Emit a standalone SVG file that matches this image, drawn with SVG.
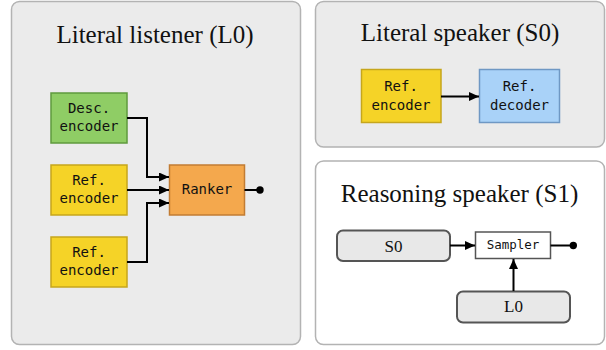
<svg xmlns="http://www.w3.org/2000/svg" width="606" height="350" viewBox="0 0 606 350">
<style>
.panel{fill:#ebebeb;stroke:#b3b3b3;stroke-width:1.5}
.panelw{fill:#ffffff;stroke:#b3b3b3;stroke-width:1.5}
.title{font-family:"Liberation Serif","Times New Roman",serif;font-size:25px;fill:#111;text-anchor:middle}
.mono{font-family:"DejaVu Sans Mono","Liberation Mono",monospace;font-size:14px;fill:#111;text-anchor:middle}
.green{fill:#8fcd65;stroke:#5f9a3e;stroke-width:1.5}
.yellow{fill:#f5d327;stroke:#c6a61c;stroke-width:1.5}
.orange{fill:#f4a84d;stroke:#c27c33;stroke-width:1.5}
.blue{fill:#a9d2f8;stroke:#6f98c4;stroke-width:1.5}
.gnode{fill:#e8e8e8;stroke:#555;stroke-width:2}
.serif{font-family:"Liberation Serif","Times New Roman",serif;font-size:17px;fill:#111;text-anchor:middle}
.conn{fill:none;stroke:#000;stroke-width:2}
</style>
<defs>
<marker id="arr" viewBox="0 0 10 9" refX="10" refY="4.5" markerWidth="5" markerHeight="4.5" markerUnits="strokeWidth" orient="auto">
<path d="M0,0 L10,4.5 L0,9 Z" fill="#000"/>
</marker>
</defs>
<g id="panel-l0">
<rect class="panel" x="11.5" y="1.5" width="289" height="343" rx="8"/>
<text class="title" x="155" y="42.5">Literal listener (L0)</text>
</g>
<g id="panel-s0">
<rect class="panel" x="315.5" y="1.5" width="289" height="145.5" rx="8"/>
<text class="title" x="460" y="40.5">Literal speaker (S0)</text>
</g>
<g id="panel-s1">
<rect class="panelw" x="315.5" y="161" width="289" height="183.5" rx="8"/>
<text class="title" x="459.5" y="201.5">Reasoning speaker (S1)</text>
</g>
<g id="desc-encoder">
<rect class="green" x="51" y="93" width="76" height="50"/>
<text class="mono" x="89" y="112.5">Desc.</text>
<text class="mono" x="89" y="131">encoder</text>
</g>
<g id="ref-encoder-1">
<rect class="yellow" x="51" y="165" width="76" height="50"/>
<text class="mono" x="89" y="184.5">Ref.</text>
<text class="mono" x="89" y="203">encoder</text>
</g>
<g id="ref-encoder-2">
<rect class="yellow" x="51" y="237" width="76" height="50"/>
<text class="mono" x="89" y="256.5">Ref.</text>
<text class="mono" x="89" y="275">encoder</text>
</g>
<g id="ranker">
<rect class="orange" x="169.5" y="165" width="75" height="50"/>
<text class="mono" x="207" y="193.5">Ranker</text>
</g>
<g id="s0-ref-encoder">
<rect class="yellow" x="361.5" y="69.5" width="79.5" height="53"/>
<text class="mono" x="401" y="90.5">Ref.</text>
<text class="mono" x="401" y="110">encoder</text>
</g>
<g id="s0-ref-decoder">
<rect class="blue" x="479.5" y="69.5" width="80" height="53"/>
<text class="mono" x="519.5" y="90.5">Ref.</text>
<text class="mono" x="519.5" y="110">decoder</text>
</g>
<g id="s1-s0">
<rect class="gnode" x="337" y="230.5" width="113" height="30.5" rx="6"/>
<text class="serif" x="393.5" y="251.5">S0</text>
</g>
<g id="s1-l0">
<rect class="gnode" x="457" y="291.5" width="113" height="31" rx="6"/>
<text class="serif" x="513.5" y="312">L0</text>
</g>
<g id="sampler">
<rect x="475.5" y="232" width="75" height="26.5" fill="#fff" stroke="#555" stroke-width="1.5"/>
<text class="mono" x="513" y="249" style="font-size:12.5px">Sampler</text>
</g>
<g id="connectors">
<path class="conn" d="M127,118 H147 V177 H169" marker-end="url(#arr)"/>
<path class="conn" d="M127,190 H169" marker-end="url(#arr)"/>
<path class="conn" d="M127,262 H147 V203 H169" marker-end="url(#arr)"/>
<path class="conn" d="M244.5,190 H259"/>
<circle cx="260" cy="190" r="3.7" fill="#000"/>
<path class="conn" d="M441,96.5 H479" marker-end="url(#arr)"/>
<path class="conn" d="M450,245.5 H475" marker-end="url(#arr)"/>
<path class="conn" d="M513.5,291 V259" marker-end="url(#arr)"/>
<path class="conn" d="M550.5,245.5 H572"/>
<circle cx="573.3" cy="245.5" r="3.7" fill="#000"/>
</g>
</svg>
